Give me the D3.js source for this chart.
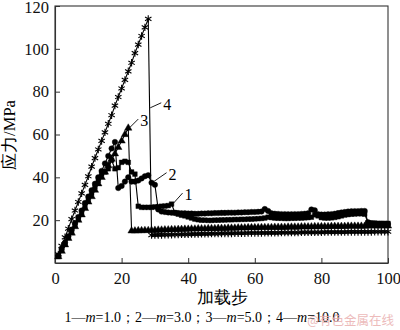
<!DOCTYPE html>
<html>
<head>
<meta charset="utf-8">
<script src="https://cdn.jsdelivr.net/npm/d3@7/dist/d3.min.js"></script>
<style>
  html, body { margin: 0; padding: 0; background: #fff; }
  svg { display: block; }
</style>
</head>
<body>
<svg id="chart" width="400" height="330"></svg>
<script>
// Load steps 1..100
const steps = d3.range(1, 101);

// Stress (MPa) per load step, one array per m value
const s1 = [ // m = 1.0
  3, 6, 9, 12, 14.5, 17.5, 20.5, 23.5, 26.5, 29.5,
  32.5, 35.5, 38.5, 41.5, 42.5, 44, 48, 44, 44.5, 47,
  47.5, 47, 42.5, 41.5, 26.5, 26, 26, 26, 26, 26.2,
  26.3, 26.5, 26.6, 26.8, 27.5, 23.5, 22.8, 22.3, 22, 21.5,
  21, 20.5, 20.2, 20, 20, 19.9, 19.9, 20, 20, 20.1,
  20.1, 20.2, 20.2, 20.3, 20.3, 20.4, 20.4, 20.5, 20.5, 20.6,
  20.7, 20.8, 21, 21.4, 21.2, 21, 20.9, 20.9, 20.8, 20.8,
  20.9, 20.9, 21, 21, 21.1, 21.2, 21.4, 22.5, 22, 21.2,
  21, 21, 21.1, 21.3, 21.6, 22, 22.4, 22.6, 22.8, 22.9,
  23, 23, 22.8, 18.8, 18.6, 18.6, 18.5, 18.5, 18.5, 18.5
];
const s2 = [ // m = 3.0
  3.5, 6.5, 9.5, 12.5, 15.5, 18.5, 21.5, 24.5, 28, 31,
  34, 37, 40, 43, 46.5, 50, 53.5, 56.5, 35, 36,
  38, 40, 38, 38, 38.5, 39.5, 40.5, 41, 37.5, 36.5,
  25, 24, 23.8, 23.6, 23.5, 23.4, 23.3, 23.2, 23.2, 23.1,
  23.1, 23, 23, 23.1, 23.1, 23.2, 23.2, 23.3, 23.3, 23.4,
  23.4, 23.5, 23.5, 23.5, 23.6, 23.6, 23.7, 23.7, 23.8, 23.8,
  23.9, 24, 25.2, 24.3, 23.2, 23, 22.9, 22.8, 22.8, 22.7,
  22.7, 22.8, 22.8, 22.9, 23, 23.2, 25, 24.6, 22.8, 22.6,
  22.6, 22.7, 22.8, 23, 23.3, 23.6, 23.8, 24, 24.1, 24.2,
  24.2, 24.3, 24.3, 19, 18.5, 18.4, 18.3, 18.3, 18.2, 18.2
];
const s3 = [ // m = 5.0
  3, 5.5, 8.5, 11.5, 14, 17, 20, 22.5, 25.5, 28.5,
  31, 34, 37, 40, 42.5, 45.5, 48.5, 51, 54, 57,
  60, 63, 15, 15, 15.1, 15.1, 15.2, 15.2, 15.3, 15.3,
  15.4, 15.4, 15.5, 15.5, 15.6, 15.6, 15.7, 15.7, 15.8, 15.8,
  15.9, 15.9, 16, 16, 16, 16.1, 16.1, 16.1, 16.2, 16.2,
  16.2, 16.3, 16.3, 16.3, 16.4, 16.4, 16.4, 16.5, 16.5, 16.5,
  16.5, 16.6, 16.6, 16.6, 16.6, 16.7, 16.7, 16.7, 16.7, 16.8,
  16.8, 16.8, 16.8, 16.9, 16.9, 16.9, 16.9, 17, 17, 17,
  17, 17, 17.1, 17.1, 17.1, 17.1, 17.1, 17.2, 17.2, 17.2,
  17.2, 17.2, 17.2, 17.3, 17.3, 17.3, 17.3, 17.3, 17.3, 17.3
];
const s4 = [ // m = 10.0
  4, 8, 12, 16, 20.5, 24.5, 28.5, 32.5, 36.5, 40.5,
  45, 49, 53, 57, 61, 65, 69, 73.5, 77.5, 81.5,
  85.5, 89.5, 93.5, 98, 102, 106, 110, 114, 13, 13,
  13.1, 13.1, 13.2, 13.2, 13.2, 13.3, 13.3, 13.4, 13.4, 13.4,
  13.5, 13.5, 13.5, 13.6, 13.6, 13.6, 13.7, 13.7, 13.7, 13.8,
  13.8, 13.8, 13.8, 13.9, 13.9, 13.9, 13.9, 14, 14, 14,
  14, 14, 14.1, 14.1, 14.1, 14.1, 14.1, 14.2, 14.2, 14.2,
  14.2, 14.2, 14.2, 14.3, 14.3, 14.3, 14.3, 14.3, 14.3, 14.3,
  14.4, 14.4, 14.4, 14.4, 14.4, 14.4, 14.4, 14.5, 14.5, 14.5,
  14.5, 14.5, 14.5, 14.5, 14.5, 14.6, 14.6, 14.6, 14.6, 14.6
];

const xTicks = [0, 20, 40, 60, 80, 100];
const yTicks = [20, 40, 60, 80, 100, 120];
const curveNames = ["1", "2", "3", "4"];
const legendText = ["1—", "m", "=1.0；2—", "m", "=3.0；3—", "m", "=5.0；4—", "m", "=10.0"];

const svg = d3.select("#chart");
const serif = "'Liberation Serif', 'Times New Roman', 'DejaVu Serif', serif";

const plotL = 55, plotR = 388, plotT = 6, plotB = 263;
const x = d3.scaleLinear().domain([0, 100]).range([plotL, plotR]);
const y = d3.scaleLinear().domain([0, 120]).range([plotB, plotT]);

// frame
svg.append("rect")
  .attr("x", plotL).attr("y", plotT)
  .attr("width", plotR - plotL).attr("height", plotB - plotT)
  .attr("fill", "none").attr("stroke", "#333").attr("stroke-width", 1.1);

// axes with inward ticks
const gx = svg.append("g").attr("transform", `translate(0,${plotB})`)
  .call(d3.axisBottom(x).tickValues(xTicks).tickSizeInner(-5).tickSizeOuter(0).tickPadding(9));
const gy = svg.append("g").attr("transform", `translate(${plotL},0)`)
  .call(d3.axisLeft(y).tickValues(yTicks).tickSizeInner(-5).tickSizeOuter(0).tickPadding(6));
[gx, gy].forEach(g => {
  g.attr("font-family", serif).attr("font-size", 16.5);
  g.select(".domain").attr("stroke", "#333").attr("stroke-width", 1.1);
  g.selectAll(".tick line").attr("stroke", "#333");
  g.selectAll(".tick text").style("font-family", serif).attr("font-size", 16.5).attr("fill", "#111");
});
gy.selectAll(".tick text").filter(d => d === 120).attr("dy", "0.42em");

// curves
const line = d3.line().x((d, i) => x(steps[i])).y(d => y(d));
const series = [
  { data: s1, sym: d3.symbolSquare, size: 22, stroke: false },
  { data: s2, sym: d3.symbolCircle, size: 24, stroke: false },
  { data: s3, sym: d3.symbolTriangle, size: 24, stroke: false },
  { data: s4, sym: d3.symbolAsterisk, size: 38, stroke: true }
];
series.forEach(s => {
  svg.append("path").datum(s.data)
    .attr("d", line).attr("fill", "none")
    .attr("stroke", "#000").attr("stroke-width", 1.1);
  const sym = d3.symbol(s.sym, s.size)();
  svg.append("g").selectAll("path").data(s.data).join("path")
    .attr("transform", (d, i) => `translate(${x(steps[i])},${y(d)})`)
    .attr("d", sym)
    .attr("fill", s.stroke ? "none" : "#000")
    .attr("stroke", "#000")
    .attr("stroke-width", s.stroke ? 1.1 : 0.4);
});

// curve labels with leader lines, anchored on each curve
const seriesData = [s1, s2, s3, s4];
const callouts = [
  { name: curveNames[0], i: 34, dx: 10, dy: -11 },
  { name: curveNames[1], i: 28, dx: 14, dy: -10 },
  { name: curveNames[2], i: 21, dx: 9, dy: -9 },
  { name: curveNames[3], i: 27, dx: 12, dy: -6, along: 72 } // on the drop segment
];
callouts.forEach((c, k) => {
  const px = x(steps[c.i]) + 1;
  const py = c.along !== undefined ? y(c.along) : y(seriesData[k][c.i]);
  svg.append("line")
    .attr("x1", px + 1).attr("y1", py - 1)
    .attr("x2", px + c.dx).attr("y2", py + c.dy)
    .attr("stroke", "#000").attr("stroke-width", 0.9);
  svg.append("text")
    .attr("x", px + c.dx + 2).attr("y", py + c.dy + 7)
    .style("font-family", serif).attr("font-size", 16)
    .text(c.name);
});

// axis titles
svg.append("text")
  .attr("transform", "translate(15,135) rotate(-90)")
  .attr("text-anchor", "middle")
  .style("font-family", serif).attr("font-size", 16.5)
  .text("应力/MPa");
svg.append("text")
  .attr("x", 222).attr("y", 303)
  .attr("text-anchor", "middle")
  .style("font-family", serif).attr("font-size", 16.5)
  .text("加载步");

// legend
const leg = svg.append("text")
  .attr("x", 202).attr("y", 322)
  .attr("text-anchor", "middle")
  .style("font-family", serif).attr("font-size", 14);
legendText.forEach(t => {
  leg.append("tspan").text(t).attr("font-style", t === "m" ? "italic" : null);
});

// site mark
svg.append("text")
  .attr("x", 394).attr("y", 325)
  .attr("text-anchor", "end")
  .style("font-family", "'Noto Sans CJK SC', sans-serif").attr("font-size", 12.5)
  .attr("fill", "#eab0b0").attr("opacity", 0.85)
  .text("@有色金属在线");
</script>
</body>
</html>
